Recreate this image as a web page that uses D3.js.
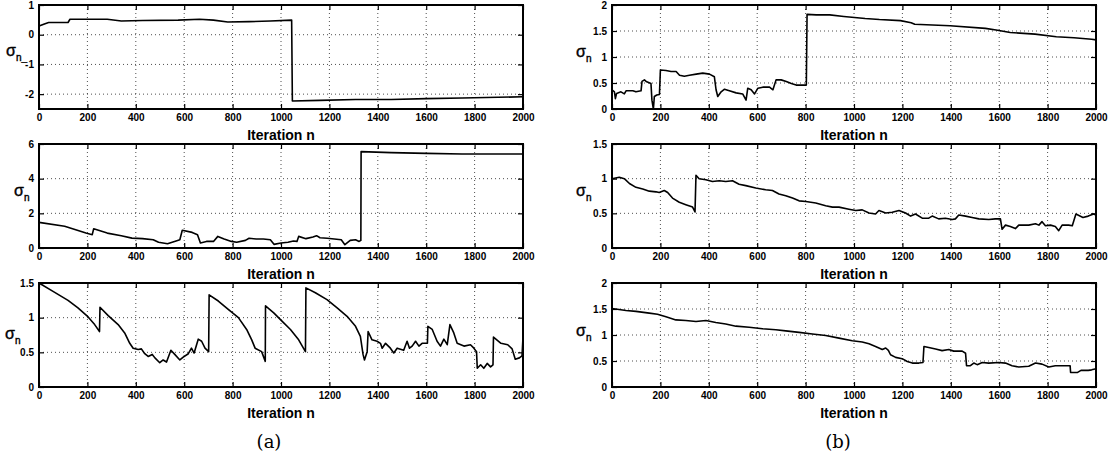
<!DOCTYPE html>
<html>
<head>
<meta charset="utf-8">
<script src="https://cdn.jsdelivr.net/npm/d3@7"></script>
<style>
  body { margin: 0; background: #fff; }
  svg { display: block; }
</style>
</head>
<body>
<div id="chart"></div>
<script>
// x axis ticks, shared by all six panels
const iterTicks = [0, 200, 400, 600, 800, 1000, 1200, 1400, 1600, 1800, 2000];

// y ticks per panel
const a1Ticks = [-2, -1, 0, 1];
const a2Ticks = [0, 2, 4, 6];
const a3Ticks = [0, 0.5, 1, 1.5];
const b1Ticks = [0, 0.5, 1, 1.5, 2];
const b2Ticks = [0, 0.5, 1, 1.5];
const b3Ticks = [0, 0.5, 1, 1.5, 2];

// (a) top
const a1N = [0, 3, 25, 40, 120, 128, 282, 340, 428, 575, 663, 721, 780, 868, 956, 1044, 1047, 1161, 1308, 1455, 1601, 1748, 2000];
const a1S = [0.28, 0.30, 0.37, 0.41, 0.41, 0.52, 0.52, 0.46, 0.48, 0.49, 0.52, 0.49, 0.43, 0.44, 0.46, 0.49, -2.23, -2.21, -2.18, -2.18, -2.15, -2.13, -2.09];

// (a) middle
const a2N = [0, 106, 194, 220, 226, 282, 340, 384, 428, 472, 494, 531, 560, 582, 592, 633, 655, 667, 692, 721, 739, 765, 795, 817, 853, 868, 897, 927, 956, 971, 1000, 1029, 1051, 1066, 1073, 1103, 1132, 1147, 1161, 1191, 1220, 1249, 1264, 1286, 1308, 1323, 1330, 1331, 1455, 1601, 1748, 1894, 2000];
const a2S = [1.48, 1.25, 0.86, 0.77, 1.11, 0.86, 0.71, 0.57, 0.54, 0.48, 0.33, 0.25, 0.38, 0.48, 1.02, 0.90, 0.77, 0.29, 0.38, 0.38, 0.67, 0.52, 0.38, 0.33, 0.44, 0.56, 0.52, 0.52, 0.48, 0.21, 0.29, 0.33, 0.40, 0.38, 0.67, 0.54, 0.63, 0.71, 0.59, 0.56, 0.52, 0.48, 0.19, 0.44, 0.48, 0.38, 0.44, 5.56, 5.50, 5.46, 5.42, 5.42, 5.42];

// (a) bottom
const a3N = [0, 58, 120, 161, 203, 230, 250, 252, 286, 327, 354, 375, 389, 410, 423, 437, 451, 468, 479, 499, 513, 527, 545, 561, 582, 596, 617, 630, 641, 658, 672, 686, 701, 703, 741, 782, 824, 858, 879, 893, 920, 935, 936, 970, 1004, 1039, 1073, 1101, 1103, 1142, 1190, 1232, 1273, 1308, 1328, 1339, 1345, 1356, 1360, 1376, 1397, 1411, 1418, 1432, 1452, 1466, 1480, 1507, 1521, 1531, 1542, 1556, 1570, 1583, 1605, 1607, 1625, 1645, 1659, 1673, 1687, 1698, 1714, 1728, 1756, 1783, 1797, 1808, 1811, 1825, 1838, 1852, 1866, 1876, 1878, 1909, 1937, 1955, 1968, 1985, 1996, 2000];
const a3S = [1.5, 1.38, 1.25, 1.14, 1.01, 0.90, 0.80, 1.15, 1.03, 0.90, 0.78, 0.63, 0.56, 0.54, 0.55, 0.48, 0.44, 0.47, 0.42, 0.35, 0.39, 0.36, 0.53, 0.47, 0.39, 0.43, 0.48, 0.56, 0.49, 0.69, 0.66, 0.56, 0.51, 1.33, 1.24, 1.12, 1.00, 0.83, 0.68, 0.56, 0.51, 0.37, 1.17, 1.07, 0.95, 0.83, 0.68, 0.51, 1.43, 1.36, 1.26, 1.14, 1.02, 0.875, 0.73, 0.47, 0.39, 0.51, 0.80, 0.68, 0.66, 0.63, 0.56, 0.63, 0.56, 0.49, 0.56, 0.53, 0.66, 0.56, 0.59, 0.66, 0.59, 0.63, 0.63, 0.875, 0.83, 0.66, 0.59, 0.69, 0.61, 0.90, 0.78, 0.63, 0.59, 0.61, 0.56, 0.51, 0.27, 0.32, 0.27, 0.34, 0.29, 0.32, 0.72, 0.63, 0.61, 0.55, 0.40, 0.42, 0.45, 0.72];

// (b) top
const b1N = [0, 10, 14, 19, 37, 51, 58, 86, 99, 120, 124, 134, 141, 161, 165, 171, 175, 185, 196, 200, 223, 244, 265, 279, 299, 320, 348, 375, 403, 423, 430, 437, 451, 465, 485, 513, 540, 554, 561, 575, 589, 603, 623, 651, 665, 678, 699, 720, 741, 761, 789, 803, 806, 844, 900, 958, 1046, 1105, 1192, 1236, 1251, 1397, 1543, 1587, 1646, 1748, 1836, 1909, 1982, 2000];
const b1S = [0.37, 0.33, 0.20, 0.30, 0.33, 0.29, 0.35, 0.35, 0.33, 0.35, 0.53, 0.56, 0.53, 0.49, 0.17, 0.0, 0.24, 0.27, 0.28, 0.75, 0.74, 0.72, 0.72, 0.65, 0.63, 0.65, 0.67, 0.69, 0.67, 0.62, 0.37, 0.24, 0.33, 0.38, 0.35, 0.31, 0.29, 0.17, 0.40, 0.37, 0.29, 0.40, 0.42, 0.42, 0.37, 0.56, 0.56, 0.53, 0.49, 0.46, 0.46, 0.46, 1.82, 1.81, 1.81, 1.78, 1.74, 1.72, 1.70, 1.66, 1.63, 1.60, 1.55, 1.52, 1.47, 1.44, 1.39, 1.37, 1.34, 1.33];

// (b) middle
const b2N = [0, 30, 51, 72, 99, 127, 154, 182, 195, 216, 230, 250, 278, 305, 333, 343, 347, 360, 388, 415, 443, 470, 498, 525, 553, 594, 635, 663, 690, 718, 746, 773, 801, 842, 883, 911, 938, 979, 1007, 1034, 1062, 1089, 1103, 1131, 1158, 1186, 1213, 1234, 1254, 1282, 1309, 1323, 1350, 1378, 1406, 1419, 1433, 1461, 1488, 1516, 1557, 1584, 1605, 1612, 1626, 1646, 1667, 1681, 1722, 1750, 1764, 1777, 1791, 1812, 1832, 1846, 1860, 1887, 1902, 1917, 1946, 1968, 1990, 2000];
const b2S = [1.0, 1.02, 1.0, 0.93, 0.875, 0.85, 0.82, 0.81, 0.80, 0.83, 0.80, 0.72, 0.66, 0.625, 0.59, 0.52, 1.05, 1.0, 0.985, 0.96, 0.97, 0.96, 0.97, 0.92, 0.90, 0.865, 0.84, 0.83, 0.78, 0.755, 0.72, 0.68, 0.67, 0.65, 0.61, 0.59, 0.59, 0.56, 0.54, 0.55, 0.505, 0.49, 0.54, 0.505, 0.515, 0.54, 0.505, 0.46, 0.49, 0.43, 0.43, 0.46, 0.42, 0.43, 0.41, 0.42, 0.475, 0.46, 0.44, 0.42, 0.41, 0.42, 0.42, 0.27, 0.33, 0.31, 0.28, 0.33, 0.33, 0.35, 0.33, 0.38, 0.32, 0.33, 0.31, 0.25, 0.33, 0.33, 0.32, 0.49, 0.44, 0.46, 0.49, 0.475];

// (b) bottom
const b3N = [0, 58, 99, 154, 188, 223, 264, 305, 347, 388, 429, 470, 512, 567, 622, 677, 718, 773, 828, 883, 938, 993, 1034, 1062, 1089, 1117, 1131, 1142, 1151, 1172, 1199, 1220, 1241, 1268, 1285, 1289, 1309, 1337, 1364, 1392, 1412, 1447, 1461, 1465, 1481, 1495, 1509, 1530, 1557, 1598, 1626, 1653, 1681, 1722, 1750, 1777, 1805, 1832, 1860, 1893, 1895, 1924, 1938, 1968, 1982, 2000];
const b3S = [1.51, 1.47, 1.455, 1.42, 1.40, 1.35, 1.29, 1.28, 1.26, 1.28, 1.24, 1.21, 1.17, 1.15, 1.12, 1.10, 1.08, 1.05, 1.02, 0.99, 0.94, 0.89, 0.865, 0.83, 0.78, 0.72, 0.75, 0.705, 0.62, 0.57, 0.545, 0.49, 0.46, 0.46, 0.47, 0.78, 0.76, 0.73, 0.70, 0.72, 0.69, 0.69, 0.65, 0.41, 0.41, 0.46, 0.43, 0.47, 0.46, 0.47, 0.46, 0.41, 0.385, 0.40, 0.46, 0.44, 0.385, 0.41, 0.41, 0.41, 0.28, 0.28, 0.32, 0.32, 0.33, 0.35];

const width = 1119, height = 467;
const svg = d3.select("#chart").append("svg")
  .attr("width", width)
  .attr("height", height);

const fontSans = "'Liberation Sans', Arial, sans-serif";

function drawPanel(p) {
  const x = d3.scaleLinear().domain([0, 2000]).range([p.x0, p.x1]);
  const y = d3.scaleLinear().domain(p.dom).range([p.y1, p.y0]);
  const g = svg.append("g");

  // dotted grid
  g.append("g").selectAll("line")
    .data(iterTicks.filter(t => t > 0 && t < 2000))
    .join("line")
    .attr("x1", d => x(d)).attr("x2", d => x(d))
    .attr("y1", p.y0).attr("y2", p.y1)
    .attr("stroke", "#222").attr("stroke-width", 0.8)
    .attr("stroke-dasharray", "1,3");
  g.append("g").selectAll("line")
    .data(p.ticks.filter(t => t > p.dom[0] && t < p.dom[1]))
    .join("line")
    .attr("x1", p.x0).attr("x2", p.x1)
    .attr("y1", d => y(d)).attr("y2", d => y(d))
    .attr("stroke", "#222").attr("stroke-width", 0.8)
    .attr("stroke-dasharray", "1,3");

  // axes, ticks pointing inward
  const fmt = d => String(d);
  const bottom = g.append("g")
    .attr("transform", `translate(0,${p.y1})`)
    .call(d3.axisBottom(x).tickValues(iterTicks).tickSize(-5).tickPadding(5).tickFormat(fmt));
  const left = g.append("g")
    .attr("transform", `translate(${p.x0},0)`)
    .call(d3.axisLeft(y).tickValues(p.ticks).tickSize(-5).tickPadding(5).tickFormat(fmt));
  g.append("g")
    .attr("transform", `translate(0,${p.y0})`)
    .call(d3.axisTop(x).tickValues(iterTicks).tickSize(-5).tickFormat(""));
  g.append("g")
    .attr("transform", `translate(${p.x1},0)`)
    .call(d3.axisRight(y).tickValues(p.ticks).tickSize(-5).tickFormat(""));
  g.selectAll(".domain").remove();
  g.selectAll(".tick line").attr("stroke", "#000").attr("stroke-width", 1.2);
  [bottom, left].forEach(a => a.attr("font-family", fontSans)
    .attr("font-size", 10).attr("font-weight", "bold"));

  // the series
  const line = d3.line()
    .x(d => x(d[0]))
    .y(d => y(d[1]));
  g.append("path")
    .datum(d3.zip(p.n, p.s))
    .attr("d", line)
    .attr("fill", "none")
    .attr("stroke", "#000")
    .attr("stroke-width", 1.6)
    .attr("stroke-linejoin", "round");

  // frame
  g.append("rect")
    .attr("x", p.x0).attr("y", p.y0)
    .attr("width", p.x1 - p.x0).attr("height", p.y1 - p.y0)
    .attr("fill", "none").attr("stroke", "#000").attr("stroke-width", 2);

  // labels
  g.append("text")
    .attr("x", (p.x0 + p.x1) / 2).attr("y", p.y1 + 31)
    .attr("text-anchor", "middle")
    .attr("font-family", fontSans).attr("font-size", 14).attr("font-weight", "bold")
    .text("Iteration n");
  const yl = g.append("text")
    .attr("x", p.lx).attr("y", p.ly)
    .attr("font-family", fontSans).attr("font-size", 16)
    .attr("stroke", "#000").attr("stroke-width", 0.4);
  yl.append("tspan").text("σ");
  yl.append("tspan").attr("dy", 5).attr("font-size", 10).text(p.sub);
}

const L = [39, 523], R = [612, 1096];
const rows = [[5, 109], [144, 248], [283, 387]];

drawPanel({ n: a1N, s: a1S, dom: [-2.5, 1], ticks: a1Ticks, x0: L[0], x1: L[1], y0: rows[0][0], y1: rows[0][1], lx: 6, ly: 56, sub: "n_" });
drawPanel({ n: a2N, s: a2S, dom: [0, 6], ticks: a2Ticks, x0: L[0], x1: L[1], y0: rows[1][0], y1: rows[1][1], lx: 14, ly: 196, sub: "n" });
drawPanel({ n: a3N, s: a3S, dom: [0, 1.5], ticks: a3Ticks, x0: L[0], x1: L[1], y0: rows[2][0], y1: rows[2][1], lx: 5, ly: 339, sub: "n" });
drawPanel({ n: b1N, s: b1S, dom: [0, 2], ticks: b1Ticks, x0: R[0], x1: R[1], y0: rows[0][0], y1: rows[0][1], lx: 576, ly: 57, sub: "n" });
drawPanel({ n: b2N, s: b2S, dom: [0, 1.5], ticks: b2Ticks, x0: R[0], x1: R[1], y0: rows[1][0], y1: rows[1][1], lx: 576, ly: 196, sub: "n" });
drawPanel({ n: b3N, s: b3S, dom: [0, 2], ticks: b3Ticks, x0: R[0], x1: R[1], y0: rows[2][0], y1: rows[2][1], lx: 576, ly: 336, sub: "n" });

// sub-figure captions
svg.append("text").attr("x", 269).attr("y", 448)
  .attr("text-anchor", "middle")
  .attr("font-family", "'DejaVu Serif', 'Liberation Serif', serif").attr("font-size", 18)
  .text("(a)");
svg.append("text").attr("x", 838).attr("y", 448)
  .attr("text-anchor", "middle")
  .attr("font-family", "'DejaVu Serif', 'Liberation Serif', serif").attr("font-size", 18)
  .text("(b)");
</script>
</body>
</html>
